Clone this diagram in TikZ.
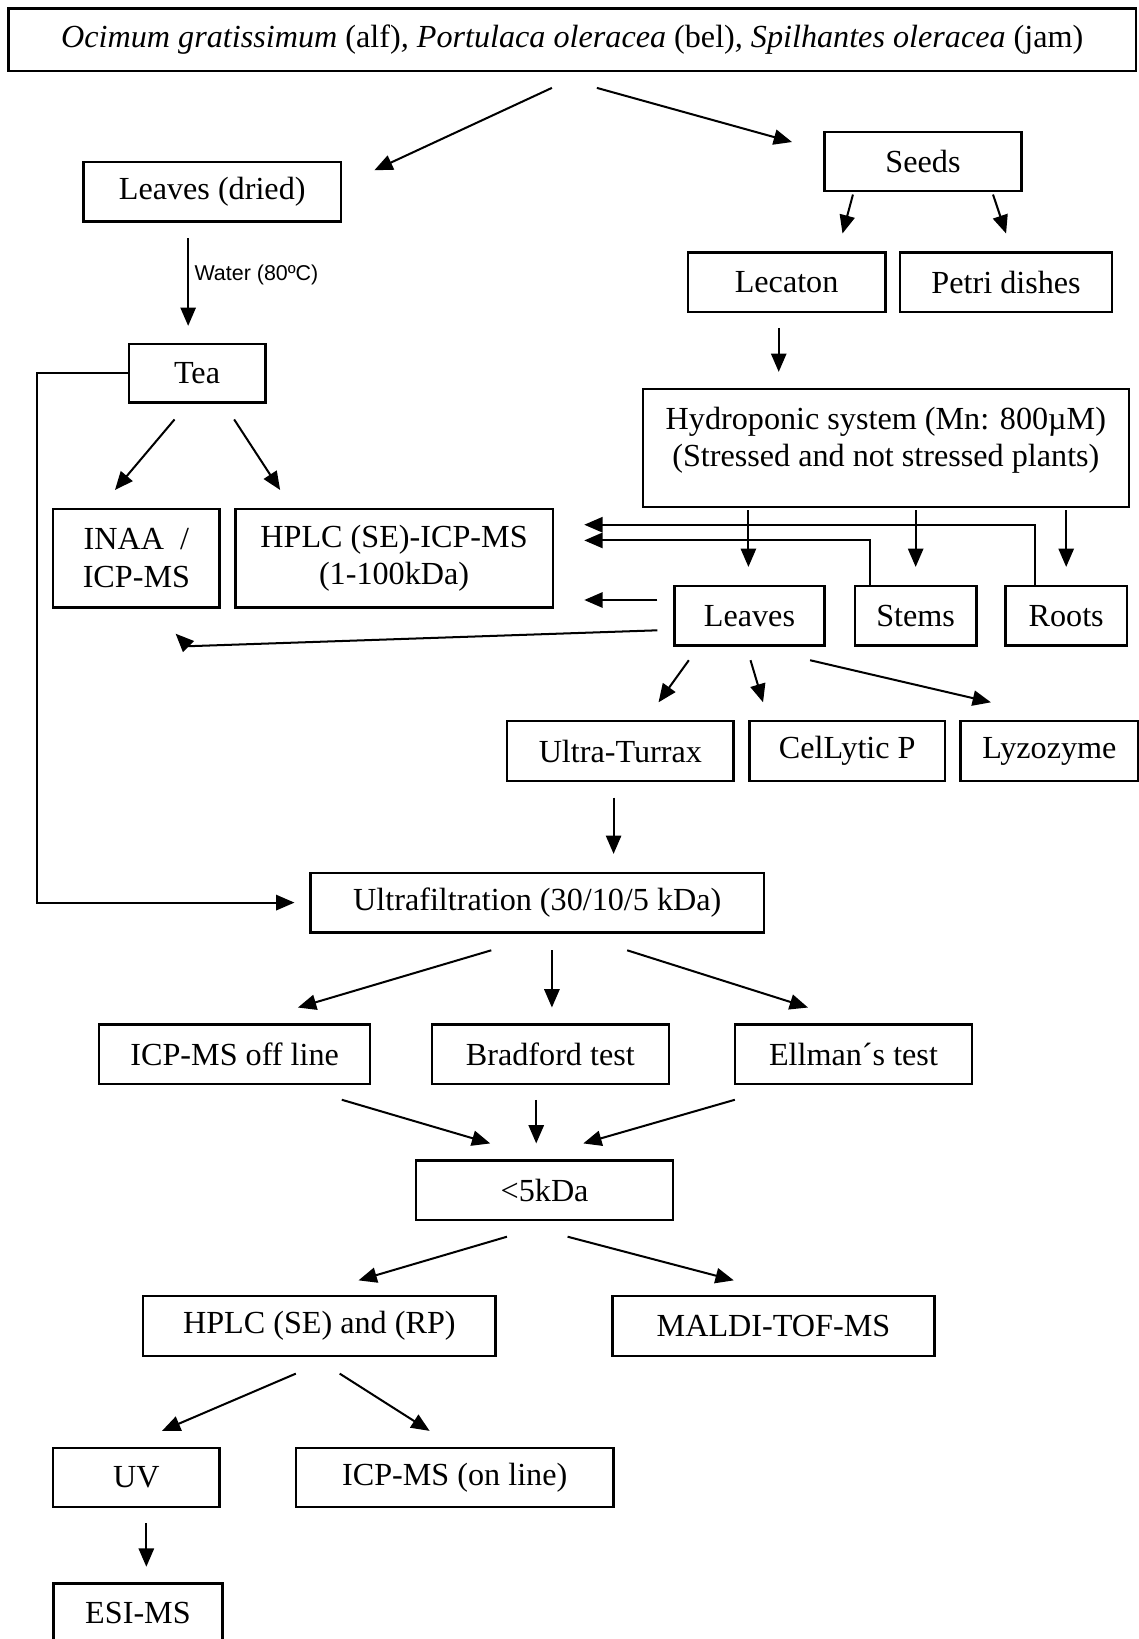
\documentclass[tikz,border=0pt]{standalone}
\usepackage{fontspec}
\setmainfont{Liberation Serif}
\newfontfamily\labelfont{Liberation Sans}
\usepackage{tikz}
\usetikzlibrary{arrows.meta}

\begin{document}
\begin{tikzpicture}[
        x=0.0137cm, y=-0.0137cm,
        box/.style={draw, line width=0.9pt, minimum height=0.78cm, inner sep=0pt,
          align=center, font=\fontsize{12}{14}\selectfont},
        arr/.style={line width=0.75pt, -{Triangle[length=0.24cm, width=0.2cm]}},
        water/.style={font=\labelfont\fontsize{8}{10}\selectfont, inner sep=2pt}
      ]
      \useasboundingbox (0,0) rectangle (1089,1568);
      \node[box, minimum width=14.78cm, minimum height=0.82cm] (top) at (547.5,38)
        {\textit{Ocimum gratissimum} (alf)\textit{,} \textit{Portulaca oleracea} (bel)\textit{,} \textit{Spilhantes oleracea} (jam)};
      \node[box, minimum width=3.37cm] (leavesdried) at (203,183.5) {Leaves (dried)};
      \node[box, minimum width=2.58cm] (seeds) at (883,154.5) {Seeds};
      \node[box, minimum width=2.59cm] (lecaton) at (752.5,270) {Lecaton};
      \node[box, minimum width=2.78cm] (petri) at (962.5,270) {Petri dishes};
      \node[box, minimum width=1.79cm, minimum height=0.77cm] (tea) at (188.5,357) {Tea};
      \node[box, minimum width=6.37cm, minimum height=1.55cm] (hydro) at (847.5,428.5)
        {Hydroponic system (Mn: 800µM)\\(Stressed and not stressed plants)\\[-0.2cm]};
      \node[box, minimum width=2.18cm, minimum height=1.29cm] (inaa) at (130.5,534) {INAA~~/\\ICP-MS};
      \node[box, minimum width=4.16cm, minimum height=1.29cm] (hplcicp) at (377,534) {HPLC (SE)-ICP-MS\\(1-100kDa)};
      \node[box, minimum width=1.97cm] (leaves) at (717,589) {Leaves};
      \node[box, minimum width=1.59cm] (stems) at (876,589) {Stems};
      \node[box, minimum width=1.59cm] (roots) at (1020,589) {Roots};
      \node[box, minimum width=2.97cm] (turrax) at (593.5,718.5) {Ultra-Turrax};
      \node[box, minimum width=2.56cm] (cellytic) at (810.5,718.5) {CelLytic P};
      \node[box, minimum width=2.33cm] (lyzo) at (1004,718.5) {Lyzozyme};
      \node[box, minimum width=5.95cm] (ultra) at (514,863.5) {Ultrafiltration (30/10/5 kDa)};
      \node[box, minimum width=3.55cm] (icpoff) at (224.5,1008.5) {ICP-MS off line};
      \node[box, minimum width=3.11cm] (bradford) at (526.5,1008.5) {Bradford test};
      \node[box, minimum width=3.11cm] (ellman) at (816.5,1008.5) {Ellman´s test};
      \node[box, minimum width=3.37cm] (lt5) at (521,1138.5) {<5kDa};
      \node[box, minimum width=4.62cm] (hplcserp) at (305.5,1268.5) {HPLC (SE) and (RP)};
      \node[box, minimum width=4.22cm] (maldi) at (740,1268.5) {MALDI-TOF-MS};
      \node[box, minimum width=2.18cm] (uv) at (130.5,1413.5) {UV};
      \node[box, minimum width=4.16cm] (icpon) at (435,1413.5) {ICP-MS (on line)};
      \node[box, minimum width=2.22cm] (esi) at (132,1543.5) {ESI-MS};

      \draw[arr] ([shift={(-19.5,15)}]top.south) -- ([shift={(31,9)}]leavesdried.north east);
      \draw[arr] ([shift={(23.5,15)}]top.south) -- ([shift={(-30,11)}]seeds.north west);
      \draw[arr] ([shift={(-67,2)}]seeds.south) -- ([shift={(53.5,-17)}]lecaton.north);
      \draw[arr] ([shift={(67,2)}]seeds.south) -- ([shift={(0,-17)}]petri.north);
      \draw[arr] ([shift={(-23,15)}]leavesdried.south) -- ([shift={(-8.5,-16)}]tea.north)
        node[water, right, pos=0.42] (water) {Water (80ºC)};
      \draw[arr] ([shift={(-7.5,14)}]lecaton.south) -- ([shift={(-102.5,-15)}]hydro.north);
      \draw[arr] ([shift={(-21.5,15)}]tea.south) -- ([shift={(-20.5,-17)}]inaa.north);
      \draw[arr] ([shift={(35.5,15)}]tea.south) -- ([shift={(-109,-17)}]hplcicp.north);
      \draw[arr] ([shift={(-131.5,2)}]hydro.south) -- ([shift={(-1,-17)}]leaves.north);
      \draw[arr] ([shift={(28.5,2)}]hydro.south) -- ([shift={(0,-17)}]stems.north);
      \draw[arr] ([shift={(172.5,2)}]hydro.south) -- ([shift={(0,-17)}]roots.north);
      \draw[arr] ([shift={(-30,0)}]roots.north) |- ([shift={(29,-32)}]hplcicp.east);
      \draw[arr] ([shift={(-44,0)}]stems.north) |- ([shift={(29,-17)}]hplcicp.east);
      \draw[arr] ([shift={(-15,-15)}]leaves.west) -- ([shift={(29,40)}]hplcicp.east);
      \draw[arr] ([shift={(-15,14)}]leaves.west) -- ([shift={(49.5,36)}]inaa.south)
        -- ([shift={(37.5,24)}]inaa.south);
      \draw[arr] ([shift={(-58,13)}]leaves.south) -- ([shift={(36.5,-17)}]turrax.north);
      \draw[arr] ([shift={(1,13)}]leaves.south) -- ([shift={(-80.5,-17)}]cellytic.north);
      \draw[arr] ([shift={(58,13)}]leaves.south) -- ([shift={(-56,-17)}]lyzo.north);
      \draw[arr] ([shift={(-6.5,15)}]turrax.south) -- ([shift={(73,-17)}]ultra.north);
      \draw[arr] (tea.west) -- ++(-87,0) |- ([shift={(-14,0)}]ultra.west);
      \draw[arr] ([shift={(-44,16)}]ultra.south) -- ([shift={(60.5,-15)}]icpoff.north);
      \draw[arr] ([shift={(14,16)}]ultra.south) -- ([shift={(1.5,-15)}]bradford.north);
      \draw[arr] ([shift={(86,16)}]ultra.south) -- ([shift={(-43.5,-15)}]ellman.north);
      \draw[arr] ([shift={(102.5,14)}]icpoff.south) -- ([shift={(-52,-15)}]lt5.north);
      \draw[arr] ([shift={(-13.5,14)}]bradford.south) -- ([shift={(-8,-15)}]lt5.north);
      \draw[arr] ([shift={(-113.5,14)}]ellman.south) -- ([shift={(37,-15)}]lt5.north);
      \draw[arr] ([shift={(-36,15)}]lt5.south) -- ([shift={(37.5,-14)}]hplcserp.north);
      \draw[arr] ([shift={(22,15)}]lt5.south) -- ([shift={(-38,-14)}]maldi.north);
      \draw[arr] ([shift={(-22.5,16)}]hplcserp.south) -- ([shift={(24.5,-15)}]uv.north);
      \draw[arr] ([shift={(19.5,16)}]hplcserp.south) -- ([shift={(-24,-15)}]icpon.north);
      \draw[arr] ([shift={(9.5,14)}]uv.south) -- ([shift={(8,-15)}]esi.north);
    \end{tikzpicture}
\end{document}
